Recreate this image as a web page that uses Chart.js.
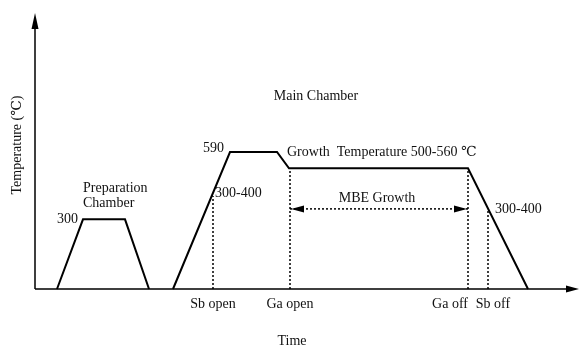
<!DOCTYPE html>
<html>
<head>
<meta charset="utf-8">
<script src="https://cdn.jsdelivr.net/npm/chart.js@4"></script>
<style>
  body { margin: 0; background: #fff; }
</style>
</head>
<body>
<canvas id="chart" width="580" height="347"></canvas>
<script>
// time in arbitrary units, temperature in deg C
const prepTime = [22, 48, 90, 114];
const prepTemp = [0, 300, 300, 0];
const mainTime = [138, 195, 242, 254, 433, 493];
const mainTemp = [0, 590, 590, 520, 520, 0];
const eventLabels = ["Sb open", "Ga open", "Ga off", "Sb off"];
const eventTime = [178, 255, 433, 453];
const eventTemp = [400, 520, 520, 345];
const mbeTime = [255, 433];
const mbeTemp = 345;

const FONT = '14px "Liberation Serif", "DejaVu Serif", serif';

const pts = (xs, ys) => xs.map((x, i) => ({ x: x, y: ys[i] }));

const datasets = [
  { data: pts(prepTime, prepTemp), borderWidth: 2 },
  { data: pts(mainTime, mainTemp), borderWidth: 2 },
];
eventTime.forEach((t, i) => {
  datasets.push({ data: [{ x: t, y: 0 }, { x: t, y: eventTemp[i] }], borderWidth: 1.5, borderDash: [2, 2] });
});
datasets.push({ data: [{ x: mbeTime[0], y: mbeTemp }, { x: mbeTime[1], y: mbeTemp }], borderWidth: 1.5, borderDash: [2, 2] });
datasets.forEach(d => {
  d.showLine = true;
  d.borderColor = "#000";
  d.pointRadius = 0;
  d.tension = 0;
  d.clip = false;
});

function arrowHead(ctx, x, y, dir, len, half) {
  // dir: unit vector the arrow points to
  ctx.beginPath();
  ctx.moveTo(x, y);
  ctx.lineTo(x - dir[0] * len - dir[1] * half, y - dir[1] * len + dir[0] * half);
  ctx.lineTo(x - dir[0] * len + dir[1] * half, y - dir[1] * len - dir[0] * half);
  ctx.closePath();
  ctx.fill();
}

const sketch = {
  id: "sketch",
  beforeDatasetsDraw(chart) {
    const { ctx, chartArea: a } = chart;
    ctx.save();
    ctx.strokeStyle = "#000";
    ctx.fillStyle = "#000";
    ctx.lineWidth = 1.5;
    ctx.beginPath();
    ctx.moveTo(a.left, a.bottom);
    ctx.lineTo(a.left, a.top + 6);
    ctx.moveTo(a.left, a.bottom);
    ctx.lineTo(a.right - 6, a.bottom);
    ctx.stroke();
    arrowHead(ctx, a.left, a.top - 2, [0, -1], 16, 3.5);
    arrowHead(ctx, a.right + 1, a.bottom, [1, 0], 13, 3.5);
    ctx.restore();
  },
  afterDatasetsDraw(chart) {
    const { ctx, chartArea: a } = chart;
    const xs = chart.scales.x, ys = chart.scales.y;
    const px = v => xs.getPixelForValue(v);
    const py = v => ys.getPixelForValue(v);
    ctx.save();
    ctx.fillStyle = "#000";
    // MBE growth arrowheads
    const ay = py(mbeTemp);
    arrowHead(ctx, px(mbeTime[0]) + 1, ay, [-1, 0], 13, 3.5);
    arrowHead(ctx, px(mbeTime[1]) - 1, ay, [1, 0], 13, 3.5);

    ctx.fillStyle = "#111";
    ctx.font = FONT;
    ctx.textBaseline = "middle";
    const text = (s, x, y, align) => { ctx.textAlign = align || "left"; ctx.fillText(s, x, y); };

    text("300", px(prepTime[1]) - 5, py(prepTemp[1]), "right");
    text("Preparation", px(prepTime[1]), 188);
    text("Chamber", px(prepTime[1]), 203);
    text("590", px(mainTime[1]) - 6, py(mainTemp[1]) - 4, "right");
    text("Main Chamber", 316, 96, "center");
    text("Growth  Temperature 500-560 \u2103", px(mainTime[3]) - 2, py(mainTemp[3]) - 16);
    text("300-400", px(eventTime[0]) + 2, py(eventTemp[0]) - 3);
    text("300-400", px(eventTime[3]) + 7, py(eventTemp[3]));
    text("MBE Growth", (px(mbeTime[0]) + px(mbeTime[1])) / 2 - 2, ay - 11, "center");

    const nudge = [0, 0, -18, 5];
    eventLabels.forEach((s, i) => text(s, px(eventTime[i]) + nudge[i], a.bottom + 15, "center"));

    text("Time", 292, 341, "center");
    ctx.translate(17, 145);
    ctx.rotate(-Math.PI / 2);
    text("Temperature (\u2103)", 0, 0, "center");
    ctx.restore();
  }
};

new Chart(document.getElementById("chart"), {
  type: "scatter",
  data: { datasets: datasets },
  options: {
    responsive: false,
    animation: false,
    layout: { padding: { left: 35, right: 2, top: 15, bottom: 58 } },
    plugins: { legend: { display: false }, tooltip: { enabled: false } },
    scales: {
      x: { type: "linear", min: 0, max: 543, display: false },
      y: { min: 0, max: 1180, display: false }
    }
  },
  plugins: [sketch]
});
</script>
</body>
</html>
